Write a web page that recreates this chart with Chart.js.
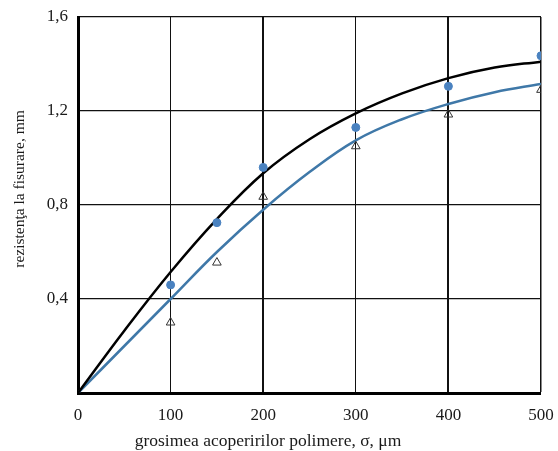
<!DOCTYPE html>
<html>
<head>
<meta charset="utf-8">
<script src="https://cdn.jsdelivr.net/npm/chart.js@4/dist/chart.umd.min.js"></script>
<style>
  html, body { margin: 0; padding: 0; background: #fff; }
  #wrap { width: 558px; height: 451px; position: relative; }
</style>
</head>
<body>
<div id="wrap"><canvas id="chart"></canvas></div>
<script>
// thickness values (um) and measured crack resistance (mm)
const thickness = [100, 150, 200, 300, 400, 500];
const measuredA = [0.46, 0.725, 0.96, 1.13, 1.305, 1.435];
const measuredB = [0.30, 0.555, 0.835, 1.05, 1.185, 1.29];

// fitted curves
const curveX = [0, 50, 100, 150, 200, 250, 300, 350, 400, 450, 500];
const curveA = [0, 0.265, 0.515, 0.74, 0.935, 1.08, 1.19, 1.275, 1.34, 1.385, 1.41];
const curveB = [0, 0.20, 0.40, 0.60, 0.78, 0.94, 1.075, 1.165, 1.23, 1.28, 1.315];

const xTicks = [0, 100, 200, 300, 400, 500];
const yTicks = [0, 0.4, 0.8, 1.2, 1.6];

const xTitle = 'grosimea acoperirilor polimere, σ, μm';
const yTitle = 'rezistenţa la fisurare, mm';

const serif = "'Liberation Serif', 'DejaVu Serif', serif";

const pairs = (xs, ys) => xs.map((x, i) => ({ x: x, y: ys[i] }));

// axis titles are placed by hand (not centred on the plot area)
const axisTitles = {
  id: 'axisTitles',
  afterDraw(chart) {
    const c = chart.ctx;
    c.save();
    c.fillStyle = '#1a1a1a';
    c.textAlign = 'center';
    c.textBaseline = 'middle';
    c.font = '17.5px ' + serif;
    c.fillText(xTitle, 268, 441);
    c.font = '15.5px ' + serif;
    c.translate(20, 189);
    c.rotate(-Math.PI / 2);
    c.fillText(yTitle, 0, 0);
    c.restore();
  }
};

new Chart(document.getElementById('chart'), {
  type: 'scatter',
  data: {
    datasets: [
      {
        label: 'A',
        data: pairs(thickness, measuredA),
        pointStyle: 'circle',
        pointRadius: 4,
        backgroundColor: '#4a82c0',
        borderColor: '#4a82c0',
        borderWidth: 1,
        order: 0
      },
      {
        label: 'B',
        data: pairs(thickness, measuredB),
        pointStyle: 'triangle',
        pointRadius: 5,
        backgroundColor: 'rgba(255,255,255,0)',
        borderColor: '#333',
        borderWidth: 1,
        order: 1
      },
      {
        type: 'line',
        label: 'curve A',
        data: pairs(curveX, curveA),
        borderColor: '#000',
        borderWidth: 2.5,
        pointRadius: 0,
        tension: 0.4,
        order: 2
      },
      {
        type: 'line',
        label: 'curve B',
        data: pairs(curveX, curveB),
        borderColor: '#3f78a8',
        borderWidth: 2.5,
        pointRadius: 0,
        tension: 0.4,
        order: 3
      }
    ]
  },
  options: {
    responsive: true,
    maintainAspectRatio: false,
    animation: false,
    layout: { padding: { left: 0, right: 17, top: 17, bottom: 0 } },
    plugins: {
      legend: { display: false },
      tooltip: { enabled: false }
    },
    scales: {
      x: {
        type: 'linear',
        min: 0,
        max: 500,
        afterBuildTicks: s => { s.ticks = xTicks.map(v => ({ value: v })); },
        afterFit: s => { s.height = 58; s.paddingLeft = 0; s.paddingRight = 0; },
        ticks: {
          color: '#1a1a1a',
          font: { family: serif, size: 17 },
          padding: 12,
          maxRotation: 0
        },
        grid: {
          drawTicks: false,
          color: '#111',
          lineWidth: ctx => {
            const v = ctx.tick.value;
            if (v === 0) return 0;
            if (v === 200 || v === 400) return 2;
            if (v === 500) return 1.5;
            return 1;
          }
        },
        border: { display: true, color: '#000', width: 3 }
      },
      y: {
        min: 0,
        max: 1.6,
        afterBuildTicks: s => { s.ticks = yTicks.map(v => ({ value: v })); },
        afterFit: s => { s.width = 78; s.paddingTop = 0; s.paddingBottom = 0; },
        ticks: {
          color: '#1a1a1a',
          font: { family: serif, size: 17 },
          padding: 10,
          callback: v => v === 0 ? '' : v.toFixed(1).replace('.', ',')
        },
        grid: {
          drawTicks: false,
          color: '#111',
          lineWidth: ctx => ctx.tick.value === 0 ? 0 : 1.3
        },
        border: { display: true, color: '#000', width: 3 }
      }
    }
  },
  plugins: [axisTitles]
});
</script>
</body>
</html>
